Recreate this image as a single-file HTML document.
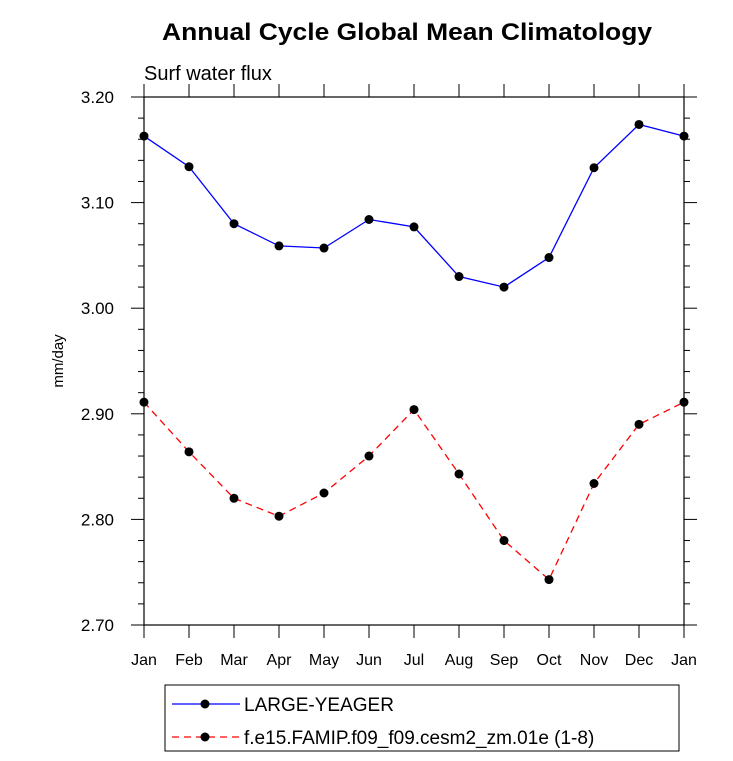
<!DOCTYPE html>
<html><head><meta charset="utf-8"><style>
body{margin:0;background:#fff;}
svg{display:block;font-family:"Liberation Sans",Arial,sans-serif;}
</style></head><body>
<svg id="chart" width="733" height="761" viewBox="0 0 733 761">
<text x="162" y="40" textLength="490" lengthAdjust="spacingAndGlyphs" font-size="24" font-weight="bold">Annual Cycle Global Mean Climatology</text>
<text x="144" y="80" font-size="20">Surf water flux</text>
<text transform="translate(63,361) rotate(-90)" text-anchor="middle" font-size="15">mm/day</text>
<g id="axes"></g>
<g id="series"></g>
<rect x="165" y="685" width="514" height="66" fill="none" stroke="#000" stroke-width="1"/>
<g>
<line x1="172" y1="704" x2="240" y2="704" stroke="#0000ff" stroke-width="1.3"/>
<circle cx="205" cy="704" r="4.5" fill="#000"/>
<text x="244" y="711" font-size="19">LARGE-YEAGER</text>
</g>
<g>
<line x1="172" y1="737" x2="240" y2="737" stroke="#ff0000" stroke-width="1.3" stroke-dasharray="7,5"/>
<circle cx="205" cy="737" r="4.5" fill="#000"/>
<text x="244" y="744" font-size="19">f.e15.FAMIP.f09_f09.cesm2_zm.01e (1-8)</text>
</g>
</svg>
<script>
const months = ["Jan","Feb","Mar","Apr","May","Jun","Jul","Aug","Sep","Oct","Nov","Dec","Jan"];
const yTicks = [2.70,2.80,2.90,3.00,3.10,3.20];
const yTickLabels = ["2.70","2.80","2.90","3.00","3.10","3.20"];
const largeYeager = [3.163,3.134,3.080,3.059,3.057,3.084,3.077,3.030,3.020,3.048,3.133,3.174,3.163];
const famip = [2.911,2.864,2.820,2.803,2.825,2.860,2.904,2.843,2.780,2.743,2.834,2.890,2.911];

const L=144,R=684,T=97,B=625,yMin=2.70,yMax=3.20;
const NS="http://www.w3.org/2000/svg";
const xs=i=>L+(R-L)*i/(months.length-1);
const ys=v=>B-(v-yMin)/(yMax-yMin)*(B-T);
function mk(tag,attrs,parent){const e=document.createElementNS(NS,tag);for(const k in attrs)e.setAttribute(k,attrs[k]);parent.appendChild(e);return e;}
const axes=document.getElementById('axes');
const frame=mk('rect',{x:L,y:T,width:R-L,height:B-T,fill:'none',stroke:'#000','stroke-width':1.2},axes);


yTicks.forEach((v,i)=>{
  const y=ys(v);
  mk('line',{x1:L,y1:y,x2:L-13,y2:y,stroke:'#000'},axes);
  mk('line',{x1:R,y1:y,x2:R+13,y2:y,stroke:'#000'},axes);
  const t=mk('text',{x:114,y:y+6,'text-anchor':'end','font-size':17},axes);
  t.textContent=yTickLabels[i];
  
  
  if(i<yTicks.length-1){for(let k=1;k<5;k++){const yy=ys(v+0.02*k);
    mk('line',{x1:L,y1:yy,x2:L-6,y2:yy,stroke:'#000'},axes);
    mk('line',{x1:R,y1:yy,x2:R+6,y2:yy,stroke:'#000'},axes);}}
});
months.forEach((m,i)=>{
  const x=xs(i);
  mk('line',{x1:x,y1:B,x2:x,y2:B+13,stroke:'#000'},axes);
  mk('line',{x1:x,y1:T,x2:x,y2:T-13,stroke:'#000'},axes);
  const t=mk('text',{x:x,y:B+40,'text-anchor':'middle','font-size':16},axes);
  t.textContent=m;
  
  
});
const ser=document.getElementById('series');
function draw(vals,color,dash,name){
  const g=mk('g',{},ser);
  
  
  const p=vals.map((v,i)=>xs(i)+','+ys(v)).join(' ');
  const attrs={points:p,fill:'none',stroke:color,'stroke-width':1.3};
  if(dash)attrs['stroke-dasharray']=dash;
  mk('polyline',attrs,g);
  vals.forEach((v,i)=>{const c=mk('circle',{cx:xs(i),cy:ys(v),r:4.5,fill:'#000'},g);
    
    });
}
draw(largeYeager,'#0000ff',null,'series-large-yeager');
draw(famip,'#ff0000','7,5','series-famip');
</script>
</body></html>
